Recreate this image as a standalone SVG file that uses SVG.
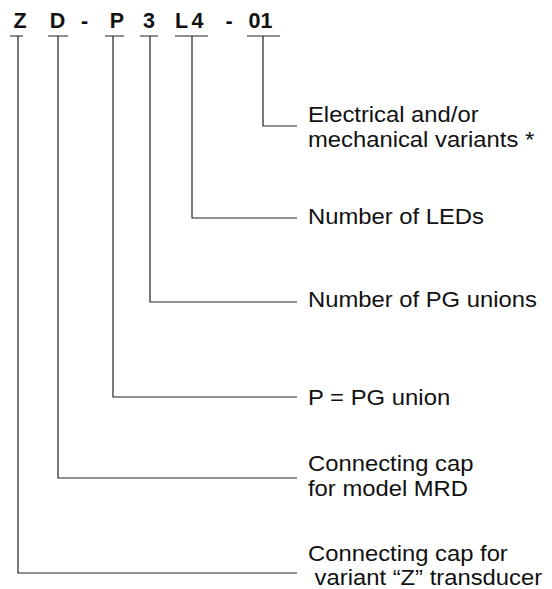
<svg xmlns="http://www.w3.org/2000/svg" width="552" height="589" viewBox="0 0 552 589">
<style>
.code{font-family:"Liberation Sans",Arial,sans-serif;font-weight:bold;font-size:21.5px;fill:#111;text-anchor:middle}
.lbl{font-family:"Liberation Sans",Arial,sans-serif;font-size:21.8px;fill:#111}
.ln{stroke:#222;stroke-width:1.2;fill:none}
</style>
<rect width="552" height="589" fill="#fff"/>
<g id="code">
<text class="code" x="20" y="28">Z</text>
<text class="code" x="57.5" y="28">D</text>
<text class="code" x="84.5" y="28">-</text>
<text class="code" x="117" y="28">P</text>
<text class="code" x="149" y="28">3</text>
<text class="code" x="181.5" y="28">L</text>
<text class="code" x="197.5" y="28">4</text>
<text class="code" x="229" y="28">-</text>
<text class="code" x="260.5" y="28">01</text>
</g>
<g id="connectors">
<path class="ln" d="M10 36H23M48 36H68M105 36H124M140 36H158M175 36H208M247 36H280"/>
<path class="ln" d="M263 36V126H297"/>
<path class="ln" d="M192 36V218H297"/>
<path class="ln" d="M150 36V302H297"/>
<path class="ln" d="M113 36V397H297"/>
<path class="ln" d="M58 36V478H297"/>
<path class="ln" d="M18 36V573H297"/>
</g>
<g id="n-variants"><text class="lbl" x="308" y="122" textLength="170.6" lengthAdjust="spacingAndGlyphs">Electrical and/or</text><text class="lbl" x="308" y="146.5" textLength="226.2" lengthAdjust="spacingAndGlyphs">mechanical variants *</text></g>
<g id="n-leds"><text class="lbl" x="308" y="224" textLength="175.9" lengthAdjust="spacingAndGlyphs">Number of LEDs</text></g>
<g id="n-pgnum"><text class="lbl" x="308" y="307" textLength="228.8" lengthAdjust="spacingAndGlyphs">Number of PG unions</text></g>
<g id="n-pg"><text class="lbl" x="308" y="405" textLength="142.2" lengthAdjust="spacingAndGlyphs">P = PG union</text></g>
<g id="n-mrd"><text class="lbl" x="308" y="471" textLength="165.4" lengthAdjust="spacingAndGlyphs">Connecting cap</text><text class="lbl" x="308" y="495.5" textLength="160" lengthAdjust="spacingAndGlyphs">for model MRD</text></g>
<g id="n-z"><text class="lbl" x="308" y="560.5" textLength="199.8" lengthAdjust="spacingAndGlyphs">Connecting cap for</text><text class="lbl" x="308" y="585" xml:space="preserve" textLength="234.1" lengthAdjust="spacingAndGlyphs"> variant “Z” transducer</text></g>
</svg>
